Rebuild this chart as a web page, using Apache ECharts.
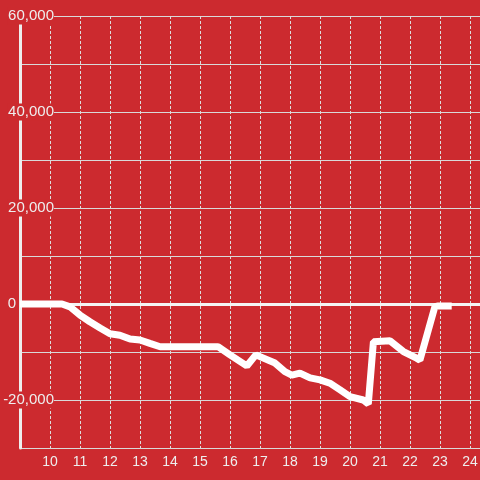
<!DOCTYPE html>
<html><head><meta charset="utf-8">
<script src="https://cdn.jsdelivr.net/npm/echarts@6/dist/echarts.min.js"></script>
<style>html,body{margin:0;padding:0;background:#cc2a2f;}#c{width:480px;height:480px;}</style>
</head><body><div id="c"></div>
<script>
var hours = [9, 10.4, 10.67, 11, 11.33, 11.67, 12, 12.33, 12.67, 13, 13.33, 13.67, 15.6, 16, 16.56, 16.86, 17.5, 17.83, 18.06, 18.33, 18.67, 19, 19.33, 19.67, 20, 20.44, 20.61, 20.78, 21.33, 21.78, 22.22, 22.33, 22.83, 22.94, 23.39];
var values = [0, 0, -600, -2300, -3700, -5000, -6200, -6500, -7300, -7500, -8200, -8900, -8900, -10600, -12900, -10600, -12300, -14100, -14800, -14400, -15400, -15800, -16500, -17900, -19300, -20000, -20800, -7850, -7650, -9900, -11300, -11700, -550, -400, -400];
var yTickLabels = [-20000, 0, 20000, 40000, 60000];
var xTickLabels = [10, 11, 12, 13, 14, 15, 16, 17, 18, 19, 20, 21, 22, 23, 24];

var BG = '#cc2a2f';
var pts = hours.map(function (h, i) { return [h, values[i]]; });
var chart = echarts.init(document.getElementById('c'));
chart.setOption({
  backgroundColor: BG,
  animation: false,
  grid: { left: 20, right: 0, top: 16, bottom: 32, containLabel: false, outerBoundsMode: 'none' },
  xAxis: {
    type: 'value', min: 9, max: 24.333, interval: 1,
    axisLine: { show: false }, axisTick: { show: false },
    axisLabel: {
      color: '#eeeeee', fontSize: 14, fontFamily: 'Liberation Sans', margin: 7,
      showMinLabel: false, showMaxLabel: false,
      formatter: function (v) { return xTickLabels.indexOf(v) >= 0 ? String(v) : ''; }
    },
    splitLine: { show: true, lineStyle: { color: '#dddddd', width: 1, type: [3, 2] } }
  },
  yAxis: {
    type: 'value', min: -30000, max: 60000, interval: 10000,
    axisLine: { show: true, lineStyle: { color: '#eeeeee', width: 3 } },
    axisTick: { show: false },
    axisLabel: {
      inside: true, align: 'right', margin: 34,
      color: '#eeeeee', fontSize: 15, fontFamily: 'Liberation Sans',
      formatter: function (v) {
        if (yTickLabels.indexOf(v) < 0) return '';
        if (v === 0) return '{z|0}';
        return '{b|' + v.toLocaleString('en-US') + '}';
      },
      rich: {
        b: { backgroundColor: BG, color: '#eeeeee', fontSize: 15, fontFamily: 'Liberation Sans', padding: [1, 0, 1, 1] },
        z: { color: '#eeeeee', fontSize: 15, fontFamily: 'Liberation Sans', padding: [0, 38, 0, 0] }
      }
    },
    splitLine: { show: true, lineStyle: { color: '#d9d9d9', width: 1 } }
  },
  series: [{
    type: 'line', data: pts, symbol: 'none',
    lineStyle: { color: '#ffffff', width: 7 },
    z: 5,
    markLine: {
      silent: true, symbol: 'none', label: { show: false },
      lineStyle: { color: '#f4f4f4', width: 3, type: 'solid' },
      data: [{ yAxis: 0 }]
    }
  }]
});
</script></body></html>
